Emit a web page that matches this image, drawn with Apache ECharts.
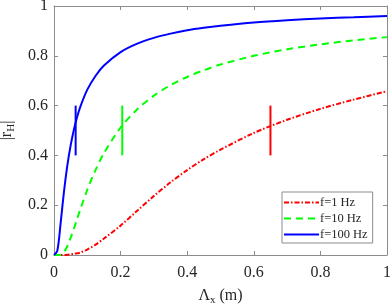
<!DOCTYPE html>
<html><head><meta charset="utf-8">
<script src="https://cdn.jsdelivr.net/npm/echarts@6/dist/echarts.min.js"></script>
<style>html,body{margin:0;padding:0;background:#fff}#c{width:392px;height:305px}</style>
</head><body><div id="c"></div>
<script>
const lambdaX = [0,0.01,0.02,0.03,0.04,0.05,0.06,0.07,0.08,0.1,0.125,0.15,0.2,0.25,0.3,0.35,0.4,0.45,0.5,0.6,0.7,0.8,0.9,1.0];
const r1Hz   = [0,0,0,0,0.001,0.003,0.005,0.007,0.010,0.022,0.042,0.066,0.118,0.178,0.237,0.292,0.341,0.385,0.423,0.490,0.543,0.587,0.624,0.658];
const r10Hz  = [0,0,0.001,0.012,0.035,0.069,0.107,0.147,0.187,0.262,0.342,0.409,0.512,0.585,0.640,0.682,0.715,0.742,0.765,0.800,0.826,0.846,0.862,0.875];
const r100Hz = [0,0.017,0.129,0.255,0.359,0.440,0.505,0.557,0.599,0.664,0.720,0.761,0.815,0.849,0.872,0.889,0.903,0.913,0.921,0.934,0.943,0.950,0.955,0.960];
const seriesNames = ['f=1 Hz','f=10 Hz','f=100 Hz'];
const markerX = [0.65, 0.205, 0.065];
const markerY = [0.4, 0.6];
const xTicks = [0,0.2,0.4,0.6,0.8,1];
const yTicks = [0,0.2,0.4,0.6,0.8,1];

const colors = ['#ff0000','#00ff00','#0000ff'];
const values = [r1Hz, r10Hz, r100Hz];
const dashes = [[5,2,1.5,2],[7,5],'solid'];
const font = 'Liberation Serif';
const axisCol = '#8c8c8c';
const txtCol = '#262626';

const chart = echarts.init(document.getElementById('c'));
const series = [];
values.forEach((v,i)=>{
  series.push({name: seriesNames[i], type:'line', showSymbol:false, symbol:'none', smooth:0.3,
    data: lambdaX.map((x,k)=>[x, v[k]]),
    lineStyle:{color:colors[i], width:2, type:dashes[i]}, itemStyle:{color:colors[i]}, z:3});
});
markerX.forEach((mx,i)=>{
  series.push({type:'line', showSymbol:false, symbol:'none', silent:true,
    data: markerY.map(y=>[mx,y]), lineStyle:{color:colors[i], width:2}, z:4});
});
const common = {min:0, max:1, interval:0.2};
const fmt = v=>String(+v.toFixed(1));
chart.setOption({
  animation:false,
  grid:{left:54, right:5, top:6, bottom:50, containLabel:false, outerBoundsMode:'none'},
  legend:{orient:'vertical', left:282, top:192, data:seriesNames,
    itemWidth:35, itemHeight:14, itemGap:3, padding:[4,5,2,1],
    itemStyle:{opacity:0},
    borderColor:axisCol, borderWidth:1, backgroundColor:'#fff',
    textStyle:{fontFamily:font, fontSize:12.5, color:txtCol, padding:[0,0,0,-4]}},
  xAxis:[
    Object.assign({type:'value', position:'bottom',
      name:'Λ{sub|x} (m)', nameLocation:'middle', nameGap:30,
      nameTextStyle:{fontFamily:font, fontSize:16, color:txtCol, rich:{sub:{fontFamily:font, fontSize:11, color:txtCol, verticalAlign:'bottom', padding:[10,0,0,0]}}},
      axisLine:{show:true, onZero:false, lineStyle:{color:axisCol, width:1}},
      axisTick:{show:true, inside:true, length:4, lineStyle:{color:axisCol}},
      axisLabel:{fontFamily:font, fontSize:16, color:txtCol, margin:10, formatter:fmt},
      splitLine:{show:false}}, common),
    Object.assign({type:'value', position:'top',
      axisLine:{show:true, onZero:false, lineStyle:{color:axisCol, width:1}},
      axisTick:{show:true, inside:true, length:4, lineStyle:{color:axisCol}},
      axisLabel:{show:false}, splitLine:{show:false}}, common)
  ],
  yAxis:[
    Object.assign({type:'value', position:'left',
      name:'|r{sub|H}|', nameLocation:'middle', nameGap:33, nameRotate:90,
      nameTextStyle:{fontFamily:font, fontSize:16, color:txtCol, rich:{sub:{fontFamily:font, fontSize:11, color:txtCol, verticalAlign:'bottom', padding:[10,0,0,0]}}},
      axisLine:{show:true, onZero:false, lineStyle:{color:axisCol, width:1}},
      axisTick:{show:true, inside:true, length:4, lineStyle:{color:axisCol}},
      axisLabel:{fontFamily:font, fontSize:16, color:txtCol, margin:6, formatter:fmt},
      splitLine:{show:false}}, common),
    Object.assign({type:'value', position:'right',
      axisLine:{show:true, onZero:false, lineStyle:{color:axisCol, width:1}},
      axisTick:{show:true, inside:true, length:4, lineStyle:{color:axisCol}},
      axisLabel:{show:false}, splitLine:{show:false}}, common)
  ],
  series: series
});
</script></body></html>
